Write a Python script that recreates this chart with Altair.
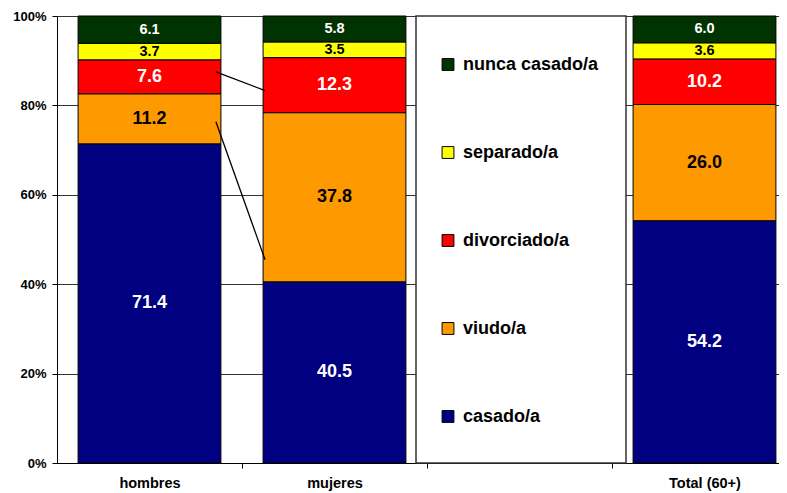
import json
import altair as alt
import pandas as pd

# ---------------- data ----------------
CATEGORIES = ["hombres", "mujeres", "", "Total (60+)"]
SERIES = ["casado/a", "viudo/a", "divorciado/a", "separado/a", "nunca casado/a"]
CASADO = [71.4, 40.5, None, 54.2]
VIUDO = [11.2, 37.8, None, 26.0]
DIVORCIADO = [7.6, 12.3, None, 10.2]
SEPARADO = [3.7, 3.5, None, 3.6]
NUNCA = [6.1, 5.8, None, 6.0]
COLORS = ["#000080", "#FF9900", "#FF0000", "#FFFF00", "#003300"]
Y_TICKS = [0, 0.2, 0.4, 0.6, 0.8, 1.0]
LINE_SERIES = ["casado/a", "viudo/a"]  # series lines between hombres and mujeres

# ---------------- layout / style ----------------
FONT = "Liberation Sans, Arial, sans-serif"
PLOT_W, PLOT_H = 722, 447
UNIT = 185.0
X_MAX = PLOT_W / UNIT
BAR_L, BAR_R = 0.114, 0.886

values_by_series = [CASADO, VIUDO, DIVORCIADO, SEPARADO, NUNCA]
rows = []
for si, (name, vals) in enumerate(zip(SERIES, values_by_series)):
    for ci, v in enumerate(vals):
        if v is None:
            continue
        rows.append({"ci": ci, "cat": CATEGORIES[ci], "si": si, "serie": name, "value": v})
df = pd.DataFrame(rows)

line_rows = []
for name in LINE_SERIES:
    si = SERIES.index(name)
    tops = []
    for ci in (0, 1):
        col = [vals[ci] for vals in values_by_series]
        tops.append(sum(col[: si + 1]) / sum(col))
    line_rows.append({"serie": name, "ci_a": 0, "ci_b": 1, "y_a": tops[0], "y_b": tops[1]})
df_lines = pd.DataFrame(line_rows)

xs = alt.Scale(domain=[0, X_MAX], nice=False, zero=False)
ys = alt.Scale(domain=[0, 1], nice=False)

y_axis = alt.Axis(
    values=Y_TICKS, format="%", title=None,
    labelFont=FONT, labelFontWeight="bold", labelFontSize=13, labelColor="black",
    labelPadding=6, tickSize=5, tickColor="black", domainColor="black",
    grid=True, gridColor="#333333", gridWidth=1,
)
x_tick_axis = alt.Axis(
    orient="bottom", values=[1, 2, 3], labels=False, title=None,
    tickSize=5, tickColor="black", domainColor="black", grid=False,
)
label_values = [i + 0.5 for i, c in enumerate(CATEGORIES) if c]
x_label_axis = alt.Axis(
    orient="bottom", values=label_values, title=None,
    labelExpr=json.dumps(CATEGORIES) + "[floor(datum.value)]",
    ticks=False, domain=False, grid=False, labelPadding=13,
    labelFont=FONT, labelFontWeight="bold", labelFontSize=14.5, labelColor="black",
)

base = (
    alt.Chart(df)
    .transform_stack(stack="value", as_=["y0", "y1"], groupby=["ci"],
                     sort=[alt.SortField("si", order="ascending")], offset="normalize")
    .transform_calculate(
        xa=f"datum.ci + {BAR_L}", xb=f"datum.ci + {BAR_R}",
        xm="datum.ci + 0.5", ym="(datum.y0 + datum.y1) / 2",
    )
)

legend_order = list(reversed(SERIES))
legend_colors = list(reversed(COLORS))

bars = base.mark_rect(stroke="black", strokeWidth=1).encode(
    x=alt.X("xa:Q", scale=xs, axis=x_tick_axis),
    x2="xb:Q",
    y=alt.Y("y0:Q", scale=ys, axis=y_axis),
    y2="y1:Q",
    color=alt.Color(
        "serie:N",
        scale=alt.Scale(domain=legend_order, range=legend_colors),
        legend=alt.Legend(
            orient="none", legendX=382, legendY=39.5, title=None, padding=0,
            rowPadding=70, labelFont=FONT, labelFontWeight="bold", labelFontSize=18,
            labelColor="black", symbolType="square", symbolSize=140,
            symbolStrokeColor="black", symbolStrokeWidth=1, labelOffset=6,
            direction="vertical",
        ),
    ),
)

dark_text = json.dumps(["viudo/a", "separado/a"])
small_text = json.dumps(["nunca casado/a", "separado/a"])
text = (
    base.transform_calculate(
        tcol=f"indexof({dark_text}, datum.serie) >= 0 ? 'black' : 'white'",
        tsize=f"indexof({small_text}, datum.serie) >= 0 ? 14.5 : 18",
    )
    .mark_text(font=FONT, fontWeight="bold", align="center", baseline="middle")
    .encode(
        x=alt.X("xm:Q", scale=xs, axis=x_label_axis),
        y=alt.Y("ym:Q", scale=ys, axis=y_axis),
        text=alt.Text("value:Q", format=".1f"),
        fill=alt.Fill("tcol:N", scale=None),
        size=alt.Size("tsize:Q", scale=None),
    )
)

series_lines = (
    alt.Chart(df_lines)
    .transform_calculate(xa=f"datum.ci_a + {BAR_R}", xb=f"datum.ci_b + {BAR_L}")
    .mark_rule(color="black", strokeWidth=1.3, xOffset=-5, x2Offset=2, yOffset=-22, y2Offset=-22)
    .encode(
        x=alt.X("xa:Q", scale=xs, axis=None),
        x2="xb:Q",
        y=alt.Y("y_a:Q", scale=ys, axis=y_axis),
        y2="y_b:Q",
    )
)

legend_box = alt.Chart(pd.DataFrame({"k": [0]})).mark_rect(
    fill="white", stroke="#333333", strokeWidth=1.5
).encode(x=alt.value(359), x2=alt.value(569), y=alt.value(0), y2=alt.value(PLOT_H))

chart = (
    alt.layer(legend_box, bars, series_lines, text)
    .resolve_axis(x="independent")
    .properties(
        width=PLOT_W, height=PLOT_H,
        padding={"left": 49, "top": 8, "right": 0, "bottom": 30},
        autosize=alt.AutoSizeParams(type="none"),
    )
    .configure_view(strokeWidth=0)
)

chart.save("out.html", embed_options={"renderer": "svg", "actions": False})
